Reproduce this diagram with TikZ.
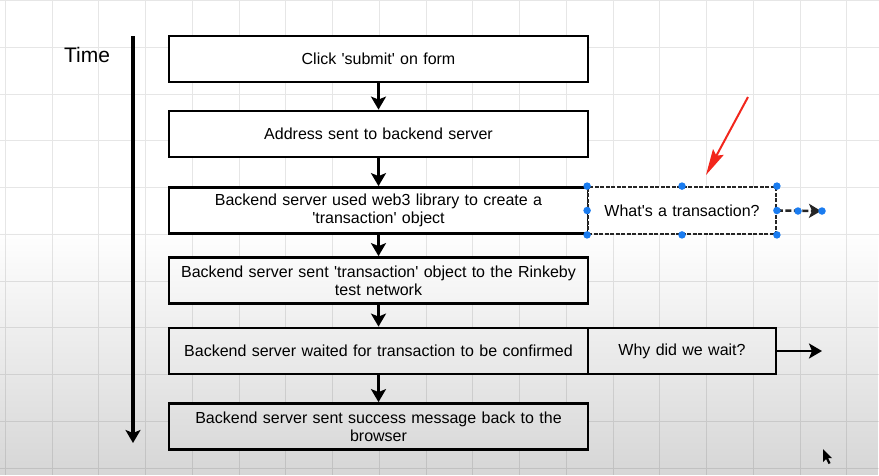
\documentclass[tikz,border=0pt]{standalone}
\usepackage{fontspec}
\setmainfont{Liberation Sans}
\usetikzlibrary{arrows.meta,fadings}
\definecolor{gridc}{HTML}{E6E6E6}
\definecolor{handle}{HTML}{1A7CF0}
\definecolor{redarrow}{HTML}{F2261C}
\newcommand\sq{\textquotesingle}
\tikzset{
  stepbox/.style={draw=black, line width=2.8pt, fill=white, minimum height=46pt, inner sep=2pt, align=center, text width=410pt,
     font=\fontsize{16}{17.8}\selectfont},
  sidebox/.style={stepbox, minimum width=188pt, text width=180pt},
  conn/.style={line width=2.8pt, -{Stealth[length=13pt,width=15pt,inset=3pt]}},
  hdl/.style={circle, fill=handle, inner sep=0pt, minimum size=7.5pt},
}
\begin{document}
\begin{tikzpicture}[x=1pt,y=-1pt]
\useasboundingbox (0,0) rectangle (879,475);
% background
\fill[white] (0,0) rectangle (879,475);
\foreach \i in {0,...,18} {\draw[gridc, line width=1pt] ({5.3+46.75*\i},0) -- ({5.3+46.75*\i},475);}
\foreach \i in {0,...,10} {\draw[gridc, line width=1pt] (0,{0.5+46.75*\i}) -- (879,{0.5+46.75*\i});}
% time axis
\node[font=\fontsize{21}{24}\selectfont, anchor=center] (time) at (87,55) {Time};
\coordinate (t0) at (133,36);
\coordinate (t1) at (133,443);
\draw[conn, line width=3.2pt] (t0) -- (t1);
% steps
\node[stepbox, minimum width=419pt] (b1) at (378.5,59) {Click \sq submit\sq{} on form};
\node[stepbox, minimum width=419pt] (b2) at (378.5,134) {Address sent to backend server};
\node[stepbox, minimum width=419pt] (b3) at (378.5,210.5) {Backend server used web3 library to create a\\\sq transaction\sq{} object};
\node[stepbox, minimum width=419pt] (b4) at (378.5,280.5) {Backend server sent \sq transaction\sq{} object to the Rinkeby\\test network};
\node[stepbox, minimum width=419pt] (b5) at (378.5,351) {Backend server waited for transaction to be confirmed};
\node[stepbox, minimum width=419pt] (b6) at (378.5,426.5) {Backend server sent success message back to the\\browser};
\draw[conn] (b1) -- (b2);
\draw[conn] (b2) -- (b3);
\draw[conn] (b3) -- (b4);
\draw[conn] (b4) -- (b5);
\draw[conn] (b5) -- (b6);
% side boxes
\node[sidebox, draw=black!85, line width=1.8pt, dash pattern=on 4pt off 1.5pt, minimum height=47pt] (sa) at (682,210.5) {What\sq s a transaction?};
\node[sidebox] (sb) at (682,351) {Why did we wait?};
\coordinate (saEnd) at (821,211);
\coordinate (sbEnd) at (822,351);
\draw[conn] (sb) -- (sbEnd);
\draw[line width=2.6pt, dash pattern=on 6pt off 2.5pt, black!85, -{Stealth[length=12pt,width=14pt,inset=3pt]}] (sa.east) -- (saEnd);
% selection handles
\foreach \a in {north west,north,north east,east,south east,south,south west,west}
  {\node[hdl] at (sa.\a) {};}
\node[hdl] (h1) at (798,211) {};
\node[hdl] (h2) at (822,211) {};
% red annotation arrow
\coordinate (r0) at (748,97);
\coordinate (r1) at (706,175);
\draw[redarrow, line width=2pt, -{Stealth[length=26pt,width=12pt,inset=4pt]}] (r0) -- (r1);
% mouse cursor
\fill[black] (823,449) -- (823,462) -- (826,459) -- (828.5,464) -- (830.5,463) -- (828,458) -- (832,458) -- cycle;
% video darkening toward the bottom
\fill[black, path fading=north, opacity=0.16] (0,230) rectangle (879,475);
\end{tikzpicture}
\end{document}
